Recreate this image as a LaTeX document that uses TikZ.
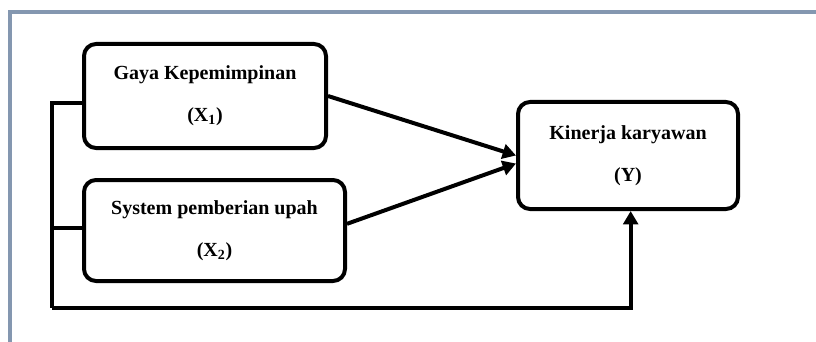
\documentclass[tikz,border=0pt]{standalone}
\usepackage{fontspec}
\setmainfont{Liberation Serif}
\usetikzlibrary{arrows.meta}

\begin{document}
\begin{tikzpicture}[x=0.75pt, y=-0.75pt,
        varbox/.style={draw, line width=3pt, rounded corners=9pt, align=center,
            font=\fontsize{15}{18}\selectfont\bfseries, inner sep=0pt},
        link/.style={line width=3pt},
        arrow/.style={line width=3pt, -{Triangle[length=10pt,width=11pt]}}]
        \definecolor{framegray}{RGB}{132,151,176}
        % Fix the page size
        \useasboundingbox (0,0) rectangle (816,342);

        % Draw the frame on the top and on the left
        \draw[framegray, line width=3pt] (8,12) -- (816,12);
        \draw[framegray, line width=3pt] (10,12) -- (10,342);

        % Draw the variables
        \node[varbox, minimum width=181.5pt, minimum height=78pt] (x1) at (205,96)
            {Gaya Kepemimpinan\\[13.5pt](X\textsubscript{1})};
        \node[varbox, minimum width=195.75pt, minimum height=75.75pt] (x2) at (214.5,230.5)
            {System pemberian upah\\[13.5pt](X\textsubscript{2})};
        \node[varbox, minimum width=165pt, minimum height=80.25pt] (y) at (628,155.5)
            {Kinerja karyawan\\[13.5pt](Y)};

        % Draw the arrows to Y
        \draw[arrow] (x1.east) -- (y.west);
        \draw[arrow] ([yshift=5pt]x2.east) -- ([yshift=-6pt]y.west);

        % Line on the left joining X1, X2 and Y
        \coordinate (corner) at (52,308);
        \draw[link] ([yshift=-5pt]x1.west) -| (corner);
        \draw[link] ([yshift=2pt]x2.west) -- ([yshift=2pt]x2.west -| corner);
        \draw[arrow] (corner) -| ([xshift=2pt]y.south);
    \end{tikzpicture}
\end{document}
